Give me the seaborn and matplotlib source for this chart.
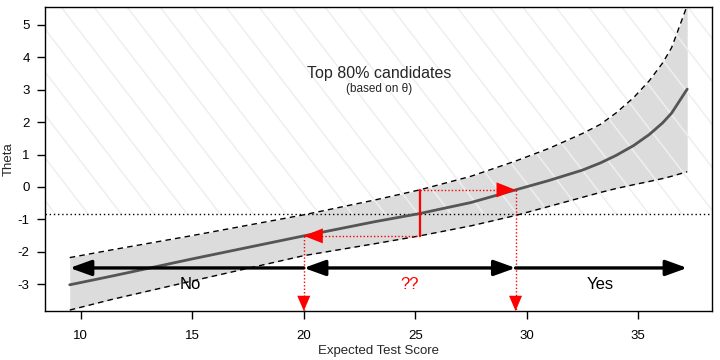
import numpy as np
import pandas as pd
import seaborn as sns
import matplotlib.pyplot as plt
from matplotlib.patches import Rectangle

# Valores
score = [9.5, 11.4, 15.0, 20.0, 23.2, 25.2, 27.5, 29.5, 31.0, 32.5, 33.3, 34.0, 34.8, 35.5, 36.1, 36.5, 37.2]
theta = [-3.02, -2.75, -2.22, -1.51, -1.07, -0.82, -0.48, -0.09, 0.20, 0.52, 0.74, 0.97, 1.28, 1.62, 1.98, 2.28, 3.02]
theta_upper = [-2.18, -1.94, -1.50, -0.86, -0.40, -0.09, 0.33, 0.80, 1.19, 1.65, 1.93, 2.28, 2.76, 3.28, 3.83, 4.30, 5.6]
theta_lower = [-3.8, -3.47, -2.9, -2.12, -1.75, -1.51, -1.2, -0.88, -0.6, -0.32, -0.17, -0.05, 0.07, 0.17, 0.26, 0.33, 0.47]

cutoff_theta = -0.84      # top 80% -> qnorm(0.2)
cut_score = 25.2          # puntuacion donde la curva cruza el corte
score_low = 20.0          # curva a la altura de la banda inferior
score_high = 29.5         # curva a la altura de la banda superior
band_low = -1.51
band_high = -0.09
arrow_y = -2.5

x_ticks = [10, 15, 20, 25, 30, 35]
y_ticks = [-3, -2, -1, 0, 1, 2, 3, 4, 5]
region_labels = ["No", "??", "Yes"]
region_x = [14.9, 24.75, 33.3]

df = pd.DataFrame({"score": score, "theta": theta, "upper": theta_upper, "lower": theta_lower})

sns.set_style("ticks")
plt.rcParams["font.family"] = ["Liberation Sans", "DejaVu Sans"]
plt.rcParams["axes.unicode_minus"] = False

fig = plt.figure(figsize=(7.2, 3.6), dpi=100)
ax = fig.add_axes([0.0625, 0.136, 0.926, 0.845])
xmin, xmax = 8.39, 38.3
ymin, ymax = -3.83, 5.56
ax.set_xlim(xmin, xmax)
ax.set_ylim(ymin, ymax)

# banda de confianza
ax.fill_between(df["score"], df["lower"], df["upper"], color="#dcdcdc", lw=0, zorder=1)

# rayado diagonal por encima del corte
clip = Rectangle((xmin, cutoff_theta), xmax - xmin, ymax - cutoff_theta,
                 transform=ax.transData, facecolor="none", edgecolor="none")
ax.add_patch(clip)
drop = 304 / 1.3 / 667
for c in np.arange(0.0345 - 1.0, 1.05, 33 / 667):
    ln, = ax.plot([c, c + drop], [1, 0], transform=ax.transAxes,
                  color="#efefef", lw=1.1, zorder=2)
    ln.set_clip_path(clip)

sns.lineplot(data=df, x="score", y="upper", ax=ax, color="black", lw=1, sort=False,
             linestyle=(0, (4, 3)), zorder=3)
sns.lineplot(data=df, x="score", y="lower", ax=ax, color="black", lw=1, sort=False,
             linestyle=(0, (4, 3)), zorder=3)
sns.lineplot(data=df, x="score", y="theta", ax=ax, color="#555555", lw=2, sort=False, zorder=4)

ax.axhline(cutoff_theta, color="black", lw=1, linestyle=(0, (1, 2)), zorder=3)

# lineas rojas
red = "#ff0000"
ax.plot([cut_score, cut_score], [band_low, band_high], color=red, lw=1.6, zorder=5)
ax.plot([cut_score, score_high], [band_high, band_high], color=red, lw=1, linestyle=(0, (1, 1.5)), zorder=5)
ax.plot([cut_score, score_low], [band_low, band_low], color=red, lw=1, linestyle=(0, (1, 1.5)), zorder=5)
ax.plot([score_high, score_high], [band_high, ymin], color=red, lw=1, linestyle=(0, (1, 1.5)), zorder=5)
ax.plot([score_low, score_low], [band_low, ymin], color=red, lw=1, linestyle=(0, (1, 1.5)), zorder=5)

def head(tip, frm, color, hl, hw):
    ax.annotate("", xy=tip, xytext=frm, zorder=6,
                arrowprops=dict(arrowstyle=f"-|>,head_length={hl},head_width={hw}",
                                color=color, lw=0, mutation_scale=1,
                                shrinkA=0, shrinkB=0))

head((score_high, band_high), (score_high - 1.0, band_high), red, 13.7, 5.4)
head((score_low, band_low), (score_low + 1.0, band_low), red, 13.7, 5.4)
head((score_high, ymin), (score_high, ymin + 0.5), red, 11, 4.7)
head((score_low, ymin), (score_low, ymin + 0.5), red, 11, 4.7)

# flechas negras
arr = dict(color="black", lw=2.4, mutation_scale=1, shrinkA=0, shrinkB=0)
ax.annotate("", xy=(score[0], arrow_y), xytext=(score_low, arrow_y), zorder=5,
            arrowprops=dict(arrowstyle="-|>,head_length=13,head_width=4.7", **arr))
ax.annotate("", xy=(score_high, arrow_y), xytext=(score_low, arrow_y), zorder=5,
            arrowprops=dict(arrowstyle="<|-|>,head_length=13,head_width=4.7", **arr))
ax.annotate("", xy=(score[-1], arrow_y), xytext=(score_high, arrow_y), zorder=5,
            arrowprops=dict(arrowstyle="-|>,head_length=13,head_width=4.7", **arr))

for lab, xx in zip(region_labels, region_x):
    ax.text(xx, -3.0, lab, ha="center", va="center", fontsize=12,
            color=red if lab == "??" else "black", zorder=6)

ax.text(23.4, 3.5, "Top 80% candidates", ha="center", va="center", fontsize=11.5)
ax.text(23.4, 3.02, "(based on θ)", ha="center", va="center", fontsize=8.5)

ax.set_xticks(x_ticks)
ax.set_yticks(y_ticks)
ax.tick_params(direction="out", length=6, width=1, labelsize=9.5, colors="black")
ax.tick_params(axis="x", pad=8)
ax.tick_params(axis="y", pad=5)
for s in ax.spines.values():
    s.set_visible(True)
    s.set_color("black")
    s.set_linewidth(1)
ax.set_xlabel("Expected Test Score", fontsize=9.5, labelpad=2)
ax.set_ylabel("Theta", fontsize=9.5)
ax.yaxis.set_label_coords(-0.046, 0.5)

fig.savefig("out.png", dpi=100)
